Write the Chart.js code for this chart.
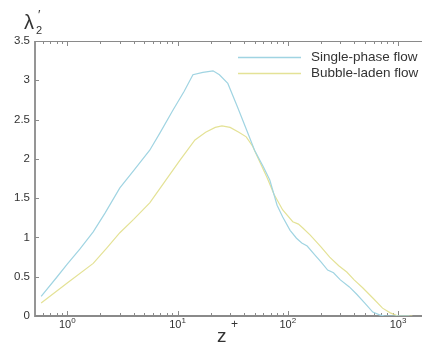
<!DOCTYPE html>
<html>
<head>
<meta charset="utf-8">
<script src="https://cdn.jsdelivr.net/npm/chart.js@4"></script>
<style>
  html, body { margin: 0; padding: 0; background: #fff; }
  #wrap { width: 422px; height: 343px; position: relative; }
</style>
</head>
<body>
<div id="wrap"><canvas id="chart"></canvas></div>
<script>
// data
const singleZ = [0.58, 0.8, 1.0, 1.3, 1.72, 2.2, 3.0, 4.0, 5.6, 7.0, 9.0, 11.5, 13.8, 17, 21, 24, 28.6, 35, 42, 50, 60, 68.7, 80, 90, 105, 120, 134, 150, 175, 200, 230, 260, 300, 362, 420, 500, 590, 680, 755, 900, 1270];
const singleVal = [0.25, 0.49, 0.66, 0.85, 1.07, 1.31, 1.63, 1.85, 2.11, 2.34, 2.61, 2.86, 3.07, 3.10, 3.12, 3.07, 2.96, 2.66, 2.38, 2.11, 1.90, 1.73, 1.41, 1.26, 1.09, 0.99, 0.93, 0.89, 0.78, 0.69, 0.585, 0.55, 0.46, 0.37, 0.28, 0.165, 0.05, 0.015, 0, 0, 0];
const bubbleZ = [0.58, 1.0, 1.72, 2.3, 3.0, 4.0, 5.6, 7.5, 10.5, 14.4, 18, 22, 25.3, 30, 36, 42, 48, 55, 65, 75, 90, 111, 125, 137, 160, 200, 240, 290, 343, 400, 478, 600, 724, 850, 1000, 1350];
const bubbleVal = [0.165, 0.42, 0.67, 0.87, 1.06, 1.23, 1.44, 1.69, 1.98, 2.24, 2.34, 2.40, 2.42, 2.40, 2.34, 2.28, 2.16, 1.98, 1.76, 1.55, 1.35, 1.2, 1.17, 1.12, 1.03, 0.88, 0.75, 0.64, 0.56, 0.46, 0.36, 0.22, 0.1, 0.04, 0, 0];
const seriesNames = ['Single-phase flow', 'Bubble-laden flow'];
const yTicks = [0, 0.5, 1, 1.5, 2, 2.5, 3, 3.5];
const xMajorExp = [0, 1, 2, 3];

const blue = 'rgb(160, 212, 226)';
const yellow = 'rgb(228, 226, 150)';
const axisColor = '#8a8a8a';
const textColor = '#333';
const FONT = '"Liberation Sans", Arial, Helvetica, sans-serif';

function toPoints(xs, ys) {
    return xs.map((x, i) => ({ x: x, y: ys[i] }));
}

// axes, ticks, labels and legend drawn by hand, positioned from the chart's scales
const axesPlugin = {
    id: 'axes',
    beforeDatasetsDraw(chart) {
        const ctx = chart.ctx;
        const area = chart.chartArea;
        const xs = chart.scales.x;
        const ys = chart.scales.y;
        ctx.save();
        ctx.strokeStyle = axisColor;
        ctx.lineWidth = 1;

        // minor + major x ticks, bottom and top, pointing inward
        for (let e = -1; e <= 3; e++) {
            for (let m = 1; m <= 9; m++) {
                const v = m * Math.pow(10, e);
                if (v < xs.min || v > xs.max) continue;
                const px = Math.round(xs.getPixelForValue(v)) + 0.5;
                const len = m === 1 ? 5 : 3;
                ctx.beginPath();
                ctx.moveTo(px, area.bottom);
                ctx.lineTo(px, area.bottom - len);
                ctx.moveTo(px, area.top);
                ctx.lineTo(px, area.top + len);
                ctx.stroke();
            }
        }
        // y ticks
        yTicks.forEach(t => {
            const py = Math.round(ys.getPixelForValue(t)) + 0.5;
            ctx.beginPath();
            ctx.moveTo(area.left, py);
            ctx.lineTo(area.left + 4, py);
            ctx.stroke();
        });

        // axis lines
        ctx.lineWidth = 1.8;
        ctx.beginPath();
        ctx.moveTo(area.left, area.top);
        ctx.lineTo(area.left, area.bottom);
        ctx.lineTo(area.right, area.bottom);
        ctx.stroke();
        ctx.lineWidth = 1.2;
        ctx.beginPath();
        ctx.moveTo(area.left, area.top + 0.5);
        ctx.lineTo(area.right, area.top + 0.5);
        ctx.stroke();

        // y tick labels
        ctx.fillStyle = textColor;
        ctx.font = '11.5px ' + FONT;
        ctx.textAlign = 'right';
        ctx.textBaseline = 'middle';
        yTicks.forEach(t => {
            ctx.fillText(String(t), area.left - 5, ys.getPixelForValue(t));
        });

        // x tick labels 10^n
        ctx.textBaseline = 'alphabetic';
        xMajorExp.forEach(e => {
            const px = xs.getPixelForValue(Math.pow(10, e));
            ctx.font = '11px ' + FONT;
            const w = ctx.measureText('10').width;
            ctx.font = '8px ' + FONT;
            const ws = ctx.measureText(String(e)).width;
            const x0 = px - (w + ws) / 2;
            ctx.font = '11px ' + FONT;
            ctx.textAlign = 'left';
            ctx.fillText('10', x0, area.bottom + 12);
            ctx.font = '8px ' + FONT;
            ctx.fillText(String(e), x0 + w, area.bottom + 7);
        });

        // x axis title z+
        ctx.font = '19px ' + FONT;
        ctx.textAlign = 'left';
        ctx.fillText('z', 217, 342);
        ctx.font = '12px ' + FONT;
        ctx.fillText('+', 231, 328);

        // y axis title lambda_2'
        ctx.font = '20px ' + FONT;
        ctx.fillText('λ', 24, 29);
        ctx.font = '11px ' + FONT;
        ctx.fillText('2', 36, 34);
        ctx.font = '13px ' + FONT;
        ctx.fillText('′', 38, 19);

        // legend
        const legendRows = [
            { name: seriesNames[0], color: blue, y: 57 },
            { name: seriesNames[1], color: yellow, y: 73 },
        ];
        legendRows.forEach(r => {
            ctx.strokeStyle = r.color;
            ctx.lineWidth = 1.3;
            ctx.beginPath();
            ctx.moveTo(238, r.y + 0.5);
            ctx.lineTo(301, r.y + 0.5);
            ctx.stroke();
            ctx.fillStyle = textColor;
            ctx.font = '13.5px ' + FONT;
            ctx.textBaseline = 'middle';
            ctx.fillText(r.name, 311, r.y);
        });
        ctx.restore();
    }
};

new Chart(document.getElementById('chart'), {
    type: 'scatter',
    data: {
        datasets: [
            {
                label: seriesNames[0],
                data: toPoints(singleZ, singleVal),
                showLine: true,
                borderColor: blue,
                borderWidth: 1.2,
                pointRadius: 0,
                tension: 0,
            },
            {
                label: seriesNames[1],
                data: toPoints(bubbleZ, bubbleVal),
                showLine: true,
                borderColor: yellow,
                borderWidth: 1.2,
                pointRadius: 0,
                tension: 0,
            },
        ],
    },
    options: {
        responsive: true,
        maintainAspectRatio: false,
        animation: false,
        layout: { padding: { left: 35, top: 41, right: 0, bottom: 27 } },
        plugins: {
            legend: { display: false },
            tooltip: { enabled: false },
        },
        scales: {
            x: { type: 'logarithmic', min: 0.51, max: 1650, display: false },
            y: { type: 'linear', min: 0, max: 3.5, display: false },
        },
    },
    plugins: [axesPlugin],
});
</script>
</body>
</html>
